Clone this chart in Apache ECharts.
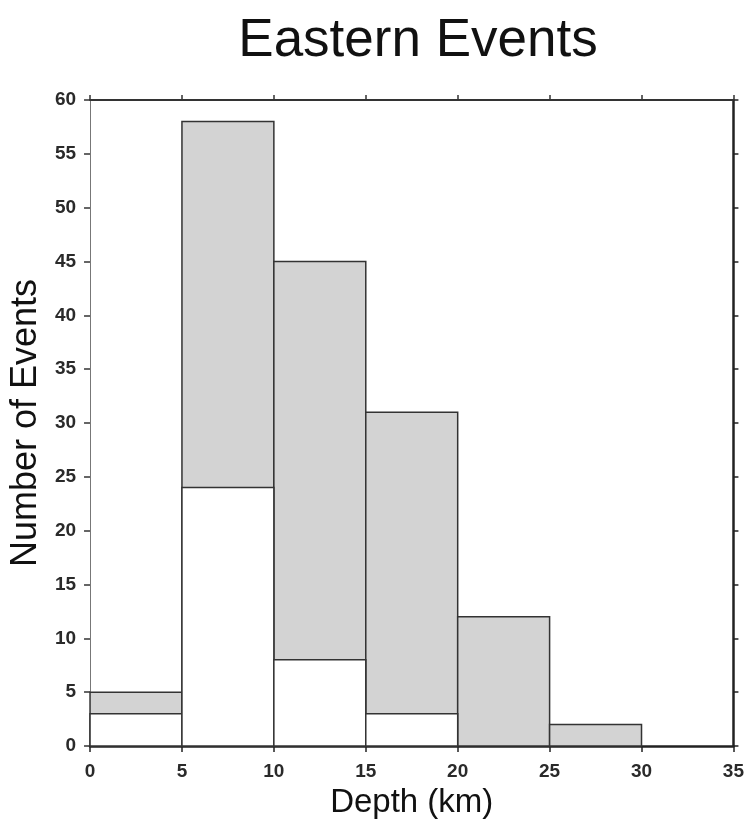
<!DOCTYPE html>
<html>
<head>
<meta charset="utf-8">
<script src="https://cdn.jsdelivr.net/npm/echarts@6/dist/echarts.min.js"></script>
<style>
  html, body { margin: 0; padding: 0; background: #fff; }
  #chart { width: 747px; height: 825px; }
</style>
</head>
<body>
<div id="chart"></div>
<script>
// depth bins (km)
var binStart = [0, 5, 10, 15, 20, 25];
var binEnd = [5, 10, 15, 20, 25, 30];
// total events per bin (grey) and subset (white)
var totalCounts = [5, 58, 45, 31, 12, 2];
var subsetCounts = [3, 24, 8, 3, 0, 0];

var xTicks = [0, 5, 10, 15, 20, 25, 30, 35];
var yTicks = [0, 5, 10, 15, 20, 25, 30, 35, 40, 45, 50, 55, 60];

var chart = echarts.init(document.getElementById("chart"));

function histData(counts) {
  return counts.map(function (c, i) {
    return [binStart[i], binEnd[i], c];
  });
}

function renderBin(fill) {
  return function (params, api) {
    var val = api.value(2);
    if (val <= 0) return null;
    var p0 = api.coord([api.value(0), val]);
    var p1 = api.coord([api.value(1), 0]);
    return {
      type: "rect",
      shape: { x: p0[0], y: p0[1], width: p1[0] - p0[0], height: p1[1] - p0[1] },
      style: { fill: fill, stroke: "#333", lineWidth: 1.5 }
    };
  };
}

var fontFam = "Liberation Sans, Arial, sans-serif";
var labelFont = { fontFamily: fontFam, fontSize: 19, fontWeight: "bold", color: "#2a2a2a" };

var option = {
  animation: false,
  backgroundColor: "#fff",
  title: {
    text: "Eastern Events",
    left: 413,
    textAlign: "center",
    top: 10,
    textStyle: { fontFamily: fontFam, fontSize: 53, fontWeight: "normal", color: "#111" }
  },
  grid: { left: 88, right: 12, top: 100, bottom: 79 },
  xAxis: [
    {
      type: "value", min: 0, max: 35, interval: 5,
      name: "Depth (km)", nameLocation: "middle", nameGap: 40,
      nameTextStyle: { fontFamily: fontFam, fontSize: 33, color: "#111" },
      axisLine: { onZero: false, lineStyle: { color: "#222", width: 2.5 } },
      axisTick: { inside: false, length: 6, lineStyle: { color: "#222", width: 1.5 } },
      axisLabel: Object.assign({ margin: 16 }, labelFont),
      splitLine: { show: false }
    },
    {
      type: "value", min: 0, max: 35, interval: 5, position: "top",
      axisLine: { onZero: false, lineStyle: { color: "#333", width: 2 } },
      axisTick: { inside: false, length: 5, lineStyle: { color: "#333", width: 1.5 } },
      axisLabel: { show: false },
      splitLine: { show: false }
    }
  ],
  yAxis: [
    {
      type: "value", min: 0, max: 60, interval: 5,
      name: "Number of Events", nameLocation: "middle", nameGap: 43,
      nameTextStyle: { fontFamily: fontFam, fontSize: 36, color: "#111" },
      axisLine: { show: true, onZero: false, lineStyle: { color: "#777", width: 1 } },
      axisTick: { show: true, inside: false, length: 6, lineStyle: { color: "#333", width: 1.5 } },
      axisLabel: Object.assign({ margin: 14 }, labelFont),
      splitLine: { show: false }
    },
    {
      type: "value", min: 0, max: 60, interval: 5, position: "right",
      axisLine: { show: true, onZero: false, lineStyle: { color: "#222", width: 2.5 } },
      axisTick: { show: true, inside: false, length: 5, lineStyle: { color: "#222", width: 1.5 } },
      axisLabel: { show: false },
      splitLine: { show: false }
    }
  ],
  series: [
    {
      type: "custom",
      name: "All",
      renderItem: renderBin("#d3d3d3"),
      encode: { x: [0, 1], y: 2 },
      data: histData(totalCounts),
      z: 2
    },
    {
      type: "custom",
      name: "Subset",
      renderItem: renderBin("#fff"),
      encode: { x: [0, 1], y: 2 },
      data: histData(subsetCounts),
      z: 3
    }
  ]
};

chart.setOption(option);
</script>
</body>
</html>
